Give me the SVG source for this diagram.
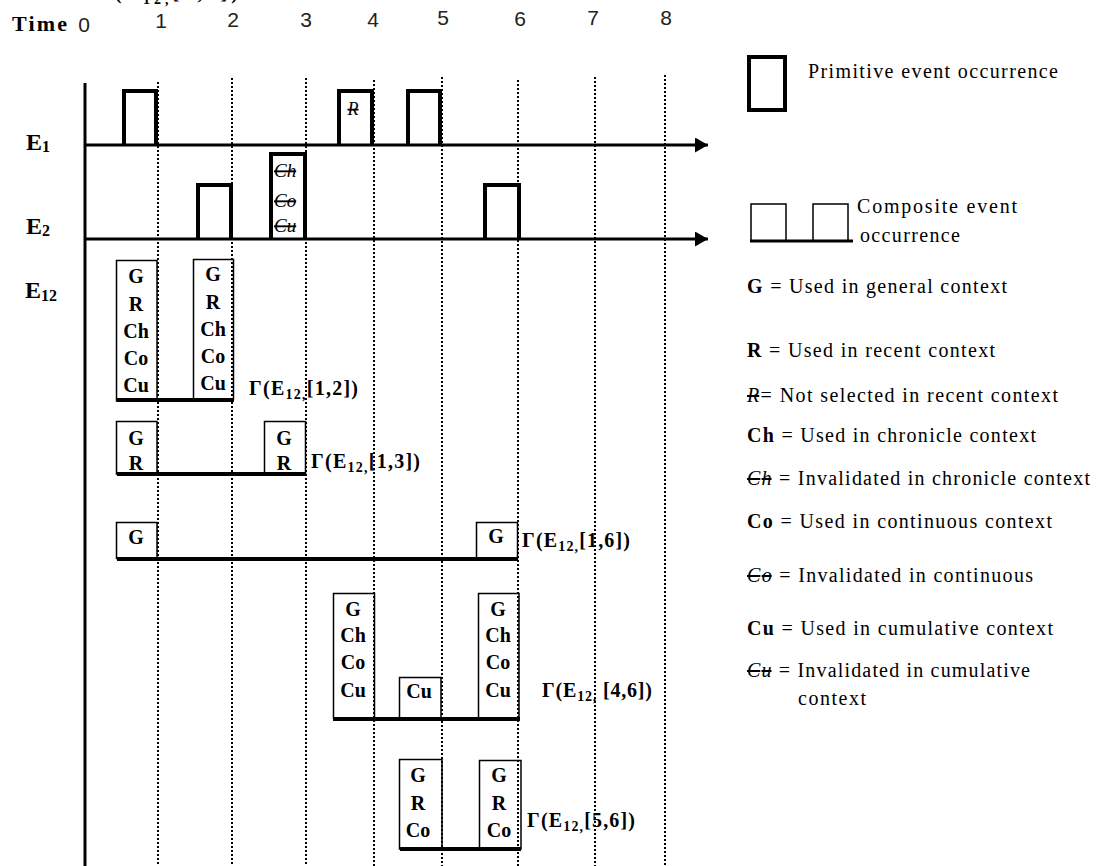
<svg xmlns="http://www.w3.org/2000/svg" width="1103" height="866" viewBox="0 0 1103 866">
<defs>
<style>
.ser{font-family:"Liberation Serif","Times New Roman",serif;fill:#000}
.b{font-weight:bold}
.num{font-family:"Liberation Sans",Arial,sans-serif;font-size:21px;fill:#222;text-anchor:middle}
.prim{fill:none;stroke:#000;stroke-width:4;stroke-linejoin:miter}
.comp{fill:none;stroke:#000;stroke-width:1.5}
.base{stroke:#000;stroke-width:4;fill:none}
.dot{stroke:#000;stroke-width:2;stroke-dasharray:2 2}
.axis{stroke:#000;stroke-width:3;fill:none}
.in{font-family:"Liberation Serif","Times New Roman",serif;font-weight:bold;font-size:20px;text-anchor:middle}
.lbl{font-family:"Liberation Serif","Times New Roman",serif;font-weight:bold;font-size:20px}
.leg{font-family:"Liberation Serif","Times New Roman",serif;font-size:20px}
.st{font-style:italic;font-weight:normal;text-decoration:line-through}
</style>
<marker id="arr" markerUnits="userSpaceOnUse" markerWidth="14" markerHeight="16" refX="13" refY="7.5" orient="auto">
<path d="M0,0 L13,7.5 L0,15 z" fill="#000"/>
</marker>
</defs>
<rect width="1103" height="866" fill="#fff"/>

<!-- clipped label at top (cut off by the picture edge in the reference) -->
<text class="lbl" x="98" y="-1" textLength="140">Γ(E<tspan font-size="14" dy="5">12,</tspan><tspan dy="-5">[1,4])</tspan></text>

<!-- time header -->
<g id="time-header">
<text class="ser b" x="12" y="31" font-size="22" textLength="55">Time</text>
<text class="num" x="84" y="32">0</text>
<text class="num" x="161" y="28">1</text>
<text class="num" x="233" y="27">2</text>
<text class="num" x="306" y="27">3</text>
<text class="num" x="373" y="27">4</text>
<text class="num" x="443" y="25">5</text>
<text class="num" x="520" y="26">6</text>
<text class="num" x="593" y="25">7</text>
<text class="num" x="666" y="25">8</text>
</g>

<!-- row labels -->
<g id="row-labels">
<text class="ser b" x="26" y="150" font-size="24">E<tspan font-size="16" dy="2">1</tspan></text>
<text class="ser b" x="26" y="234" font-size="24">E<tspan font-size="16" dy="2">2</tspan></text>
<text class="ser b" x="25" y="298" font-size="24">E<tspan font-size="16" dy="3">12</tspan></text>
</g>

<!-- connectors: axes, timelines, dotted time markers -->
<g id="connectors">
<line class="dot" x1="158" y1="82" x2="158" y2="866"/>
<line class="dot" x1="232" y1="78" x2="232" y2="866"/>
<line class="dot" x1="306" y1="78" x2="306" y2="866"/>
<line class="dot" x1="374" y1="80" x2="374" y2="866"/>
<line class="dot" x1="442" y1="77" x2="442" y2="866"/>
<line class="dot" x1="518" y1="80" x2="518" y2="866"/>
<line class="dot" x1="595" y1="77" x2="595" y2="866"/>
<line class="dot" x1="665" y1="75" x2="665" y2="866"/>
<line class="axis" x1="85" y1="83" x2="85" y2="866"/>
<line class="axis" x1="85" y1="145" x2="708" y2="145" marker-end="url(#arr)"/>
<line class="axis" x1="85" y1="239" x2="708" y2="239" marker-end="url(#arr)"/>
</g>

<!-- E1 primitive occurrences -->
<g id="e1-occ1"><path class="prim" d="M124,145 V91 H156 V145"/></g>
<g id="e1-occ4"><path class="prim" d="M339,145 V91 H372 V145"/>
<text class="ser st" x="353" y="115" font-size="18" text-anchor="middle">R</text></g>
<g id="e1-occ5"><path class="prim" d="M408,145 V91 H440 V145"/></g>

<!-- E2 primitive occurrences -->
<g id="e2-occ2"><path class="prim" d="M198,239 V185 H231 V239"/></g>
<g id="e2-occ3"><path class="prim" d="M271,239 V154 H305 V239"/>
<text class="ser st" x="274" y="177" font-size="19">Ch</text>
<text class="ser st" x="274" y="207" font-size="19">Co</text>
<text class="ser st" x="274" y="232" font-size="19">Cu</text></g>
<g id="e2-occ6"><path class="prim" d="M485,239 V185 H519 V239"/></g>

<!-- E12 composite [1,2] -->
<g id="comp-1-2">
<rect class="comp" x="116.5" y="260.5" width="40.5" height="140.5"/>
<rect class="comp" x="193.5" y="259.5" width="40" height="139.5"/>
<line class="base" x1="117" y1="400" x2="234" y2="400"/>
<text class="in" x="136" y="283">G</text><text class="in" x="136" y="311">R</text><text class="in" x="136" y="338">Ch</text><text class="in" x="136" y="365">Co</text><text class="in" x="136" y="392">Cu</text>
<text class="in" x="213" y="281">G</text><text class="in" x="213" y="309">R</text><text class="in" x="213" y="336">Ch</text><text class="in" x="213" y="363">Co</text><text class="in" x="213" y="390">Cu</text>
<text class="lbl" x="249" y="395" textLength="109">Γ(E<tspan font-size="14" dy="4">12,</tspan><tspan dy="-4">[1,2])</tspan></text>
</g>

<!-- E12 composite [1,3] -->
<g id="comp-1-3">
<rect class="comp" x="116.5" y="421.5" width="40.5" height="52.5"/>
<rect class="comp" x="264.5" y="421.5" width="41" height="52.5"/>
<line class="base" x1="117" y1="474" x2="306" y2="474"/>
<text class="in" x="136" y="445">G</text><text class="in" x="136" y="470">R</text>
<text class="in" x="284" y="445">G</text><text class="in" x="284" y="470">R</text>
<text class="lbl" x="311" y="468" textLength="109">Γ(E<tspan font-size="14" dy="4">12,</tspan><tspan dy="-4">[1,3])</tspan></text>
</g>

<!-- E12 composite [1,6] -->
<g id="comp-1-6">
<rect class="comp" x="116.5" y="522.5" width="40.5" height="36"/>
<rect class="comp" x="476.5" y="522.5" width="41" height="36"/>
<line class="base" x1="117" y1="559" x2="518" y2="559"/>
<text class="in" x="136" y="544">G</text>
<text class="in" x="496" y="543">G</text>
<text class="lbl" x="522" y="547" textLength="108">Γ(E<tspan font-size="14" dy="4">12,</tspan><tspan dy="-4">[1,6])</tspan></text>
</g>

<!-- E12 composite [4,6] -->
<g id="comp-4-6">
<rect class="comp" x="333.5" y="593.5" width="41" height="124.5"/>
<rect class="comp" x="399.5" y="677.5" width="41.5" height="40.5"/>
<rect class="comp" x="478.5" y="593.5" width="40.5" height="124.5"/>
<line class="base" x1="333" y1="719" x2="520" y2="719"/>
<text class="in" x="353" y="616">G</text><text class="in" x="353" y="642">Ch</text><text class="in" x="353" y="669">Co</text><text class="in" x="353" y="697">Cu</text>
<text class="in" x="419" y="698">Cu</text>
<text class="in" x="498" y="616">G</text><text class="in" x="498" y="642">Ch</text><text class="in" x="498" y="669">Co</text><text class="in" x="498" y="697">Cu</text>
<text class="lbl" x="542" y="697" textLength="110">Γ(E<tspan font-size="14" dy="4">12,</tspan><tspan dy="-4"> [4,6])</tspan></text>
</g>

<!-- E12 composite [5,6] -->
<g id="comp-5-6">
<rect class="comp" x="399.5" y="759.5" width="42.5" height="89.5"/>
<rect class="comp" x="479.5" y="760.5" width="41.5" height="88.5"/>
<line class="base" x1="400" y1="849" x2="521" y2="849"/>
<text class="in" x="418" y="782">G</text><text class="in" x="418" y="810">R</text><text class="in" x="418" y="837">Co</text>
<text class="in" x="499" y="782">G</text><text class="in" x="499" y="810">R</text><text class="in" x="499" y="837">Co</text>
<text class="lbl" x="527" y="827" textLength="108">Γ(E<tspan font-size="14" dy="4">12,</tspan><tspan dy="-4">[5,6])</tspan></text>
</g>

<!-- Legend -->
<g id="legend-primitive">
<rect class="prim" x="749" y="57" width="36" height="53"/>
<text class="leg" x="808" y="78" textLength="250">Primitive event occurrence</text>
</g>
<g id="legend-composite">
<rect class="comp" x="751" y="204" width="35" height="37"/>
<rect class="comp" x="813" y="204" width="35" height="37"/>
<line class="axis" x1="750" y1="241" x2="853" y2="241"/>
<text class="leg" x="857" y="213" textLength="160">Composite event</text>
<text class="leg" x="860" y="242" textLength="100">occurrence</text>
</g>
<g id="legend-contexts">
<text class="leg" x="747" y="293" textLength="260"><tspan class="b">G</tspan> = Used in general context</text>
<text class="leg" x="747" y="357" textLength="248"><tspan class="b">R</tspan> = Used in recent context</text>
<text class="leg" x="747" y="402" textLength="311"><tspan class="st">R</tspan>= Not selected in recent context</text>
<text class="leg" x="747" y="442" textLength="289"><tspan class="b">Ch</tspan> = Used in chronicle context</text>
<text class="leg" x="747" y="485" textLength="343"><tspan class="st">Ch</tspan> = Invalidated in chronicle context</text>
<text class="leg" x="747" y="528" textLength="305"><tspan class="b">Co</tspan> = Used in continuous context</text>
<text class="leg" x="747" y="582" textLength="286"><tspan class="st">Co</tspan> = Invalidated in continuous</text>
<text class="leg" x="747" y="635" textLength="306"><tspan class="b">Cu</tspan> = Used in cumulative context</text>
<text class="leg" x="747" y="677" textLength="283"><tspan class="st">Cu</tspan> = Invalidated in cumulative</text>
<text class="leg" x="798" y="705" textLength="68">context</text>
</g>
</svg>
